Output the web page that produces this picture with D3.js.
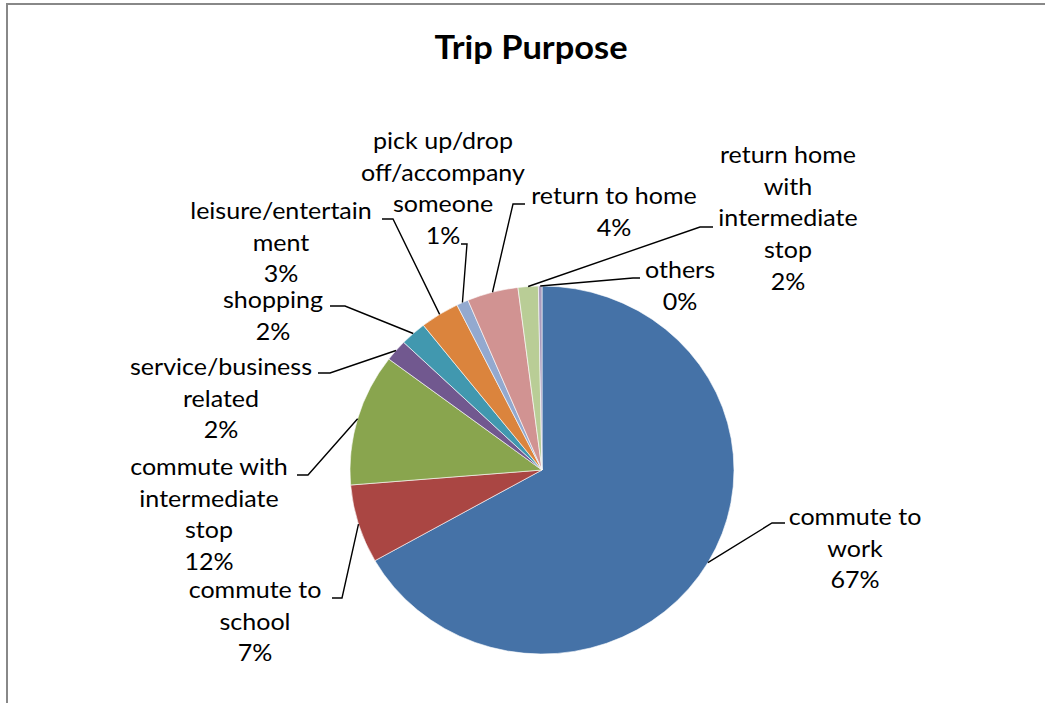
<!DOCTYPE html>
<html>
<head>
<meta charset="utf-8">
<script src="https://cdn.jsdelivr.net/npm/d3@7"></script>
<style>
  html, body { margin: 0; padding: 0; background: #fff; }
  svg { display: block; }
  text { font-family: "Lato", "Noto Sans", sans-serif; fill: #000; }
</style>
</head>
<body>
<svg id="chart" width="1045" height="703"></svg>
<script>
// Trip purpose shares (percent of trips), clockwise from 12 o'clock
const categories = [
  "commute to work", "commute to school", "commute with intermediate stop",
  "service/business related", "shopping", "leisure/entertainment",
  "pick up/drop off/accompany someone", "return to home",
  "return home with intermediate stop", "others"
];
const values = [66.8, 6.9, 11.6, 1.9, 2.2, 3.3, 1.0, 4.3, 1.7, 0.3];
const colors = [
  "#4572A7", "#AA4643", "#89A54E", "#71588F", "#4198AF",
  "#DB843D", "#93A9CF", "#D19392", "#B9CD96", "#A99BBD"
];
// Wrapped label text as shown beside the pie
const labelLines = [
  ["commute to", "work"],
  ["commute to", "school"],
  ["commute with", "intermediate", "stop"],
  ["service/business", "related"],
  ["shopping"],
  ["leisure/entertain", "ment"],
  ["pick up/drop", "off/accompany", "someone"],
  ["return to home"],
  ["return home", "with", "intermediate", "stop"],
  ["others"]
];

// Layout: label centre x, first baseline y, and leader elbow [textSideX, elbowX, y]
const labelPos = [
  { x: 855, y: 525, lead: [785, 772, 523] },
  { x: 255, y: 598, lead: [332, 342, 598] },
  { x: 209, y: 475, lead: [297, 308, 475] },
  { x: 221, y: 375, lead: [318, 330, 373] },
  { x: 273, y: 308, lead: [330, 345, 306] },
  { x: 281, y: 219, lead: [382, 393, 219] },
  { x: 443, y: 149, lead: [461, 467, 244] },
  { x: 614, y: 204, lead: [525, 513, 204] },
  { x: 788, y: 163, lead: [713, 700, 227] },
  { x: 680, y: 278, lead: [640, 633, 278] }
];

const W = 1045, H = 703;
const cx = 542, cy = 470, ry = 184, rx = 192;
const sx = rx / ry;          // horizontal stretch of the whole drawing
const lineH = 31.7;

const svg = d3.select("#chart");

// chart area with its grey frame
svg.append("rect")
  .attr("x", 7).attr("y", 4)
  .attr("width", W + 20).attr("height", H + 20)
  .attr("fill", "#fff")
  .attr("stroke", "#888").attr("stroke-width", 2);

svg.append("text")
  .attr("transform", `translate(531,59) scale(${sx},1)`)
  .attr("text-anchor", "middle")
  .attr("font-weight", "bold")
  .attr("font-size", 33)
  .text("Trip Purpose");

const data = categories.map((c, i) => ({ name: c, value: values[i], i }));
const total = d3.sum(values);

const pie = d3.pie().sort(null).value(d => d.value);
const arcs = pie(data);
const arc = d3.arc().innerRadius(0).outerRadius(ry);

const g = svg.append("g")
  .attr("transform", `translate(${cx},${cy}) scale(${sx},1)`);

g.selectAll("path")
  .data(arcs)
  .join("path")
  .attr("d", arc)
  .attr("fill", d => colors[d.data.i])
  .attr("stroke", "#fff")
  .attr("stroke-width", 0.6)
  .attr("vector-effect", "non-scaling-stroke");

// leader lines from each slice's outer edge to its label
const edgePoint = d => {
  const a = (d.startAngle + d.endAngle) / 2;
  return [cx + rx * Math.sin(a), cy - ry * Math.cos(a)];
};

svg.append("g")
  .selectAll("polyline")
  .data(arcs)
  .join("polyline")
  .attr("fill", "none")
  .attr("stroke", "#000")
  .attr("stroke-width", 1.4)
  .attr("points", d => {
    const p = labelPos[d.data.i].lead;
    const e = edgePoint(d);
    return [[p[0], p[2]], [p[1], p[2]], e].map(q => q.join(",")).join(" ");
  });

// labels: name lines followed by the rounded share
const fmt = v => Math.round(v / total * 100) + "%";
const labels = svg.append("g")
  .selectAll("text")
  .data(arcs)
  .join("text")
  .attr("transform", d => `translate(${labelPos[d.data.i].x},0) scale(${sx},1)`)
  .attr("text-anchor", "middle")
  .attr("font-size", 24);

labels.each(function(d) {
  const pos = labelPos[d.data.i];
  const lines = labelLines[d.data.i].concat([fmt(d.data.value)]);
  d3.select(this).selectAll("tspan")
    .data(lines)
    .join("tspan")
    .attr("x", 0)
    .attr("y", (t, k) => pos.y + k * lineH)
    .text(t => t);
});
</script>
</body>
</html>
